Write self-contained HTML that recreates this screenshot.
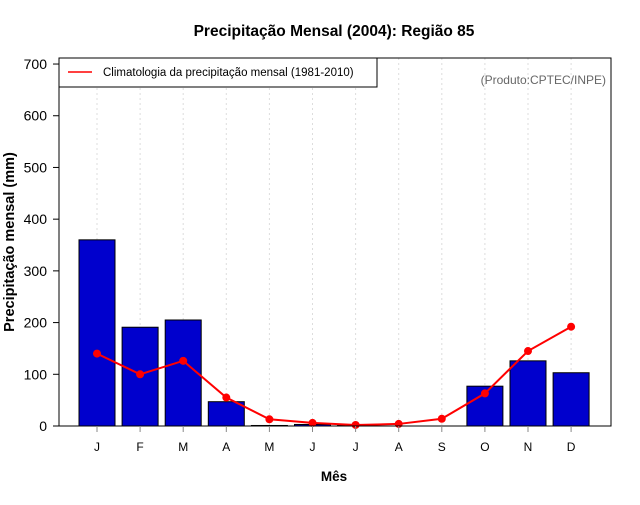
<!DOCTYPE html>
<html><head><meta charset="utf-8"><style>
body{margin:0;background:#fff;}
svg text{font-family:"Liberation Sans",sans-serif;}
</style></head><body>
<svg id="chart" width="640" height="500" xmlns="http://www.w3.org/2000/svg">
<text x="334" y="36" text-anchor="middle" font-size="15.5" font-weight="bold">Precipitação Mensal (2004): Região 85</text>
<g id="grid"></g>
<g id="bars"></g>
<g id="line"></g>
<rect x="59" y="58" width="552" height="368" fill="none" stroke="#000"/>
<g id="axes"></g>
<text transform="translate(14,242) rotate(-90)" text-anchor="middle" font-size="14.5" font-weight="bold">Precipitação mensal (mm)</text>
<text x="334" y="481" text-anchor="middle" font-size="13.5" font-weight="bold">Mês</text>
<text x="606" y="84" text-anchor="end" font-size="12" fill="#666">(Produto:CPTEC/INPE)</text>
<g>
<rect x="59" y="58" width="318" height="29" fill="#fff" stroke="#000"/>
<line x1="68" y1="72" x2="92" y2="72" stroke="red" stroke-width="1.5"/>
<text x="103" y="76" font-size="11.5">Climatologia da precipitação mensal (1981-2010)</text>
</g>
</svg>
<script>
const months=["J","F","M","A","M","J","J","A","S","O","N","D"];
const observed=[360,191,205,47,1,3,1,0,0,77,126,103];
const climatology=[140,100,126,55,13,6,2,4,14,63,145,192];
const yTicks=[0,100,200,300,400,500,600,700];
const NS="http://www.w3.org/2000/svg";
function xs(i){return 97+i*43.1;}
function ys(v){return 426-v*0.5171;}
function mk(t,a,p){const e=document.createElementNS(NS,t);for(const k in a)e.setAttribute(k,a[k]);document.getElementById(p).appendChild(e);return e;}
months.forEach((m,i)=>{
 const g=mk("line",{x1:xs(i),x2:xs(i),y1:58,y2:426,stroke:"#ddd","stroke-dasharray":"2,3"},"grid");
 
 
 const b=mk("rect",{x:xs(i)-18,y:ys(observed[i]),width:36,height:Math.max(0,426-ys(observed[i])),fill:"#0000cd",stroke:"#000","stroke-width":"1"},"bars");
 
 
 const t=mk("line",{x1:xs(i),x2:xs(i),y1:426,y2:432,stroke:"#888"},"axes");
 
 
 const l=mk("text",{x:xs(i),y:451,"text-anchor":"middle","font-size":"12"},"axes");l.textContent=m;
 
 
});
const pl=mk("polyline",{points:climatology.map((v,i)=>xs(i)+","+ys(v)).join(" "),fill:"none",stroke:"red","stroke-width":"2"},"line");


climatology.forEach((v,i)=>{
 const c=mk("circle",{cx:xs(i),cy:ys(v),r:4,fill:"red"},"line");
 
 
});
yTicks.forEach(v=>{
 const t=mk("line",{x1:53,x2:59,y1:ys(v),y2:ys(v),stroke:"#000"},"axes");
 
 
 const l=mk("text",{x:47,y:ys(v)+5,"text-anchor":"end","font-size":"14"},"axes");l.textContent=v;
 
 
});
</script>
</body></html>
